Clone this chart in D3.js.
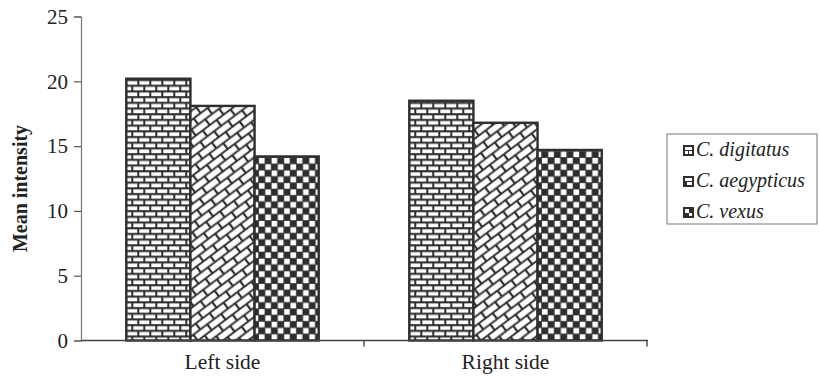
<!DOCTYPE html>
<html>
<head>
<meta charset="utf-8">
<script src="https://cdn.jsdelivr.net/npm/d3@7"></script>
<style>
  html, body { margin: 0; padding: 0; background: #fff; }
  svg { display: block; }
</style>
</head>
<body>
<svg id="chart" width="819" height="376"></svg>
<script>
// Mean intensity by side for three Cyclops species
const categories = ["Left side", "Right side"];
const species = ["C. digitatus", "C. aegypticus", "C. vexus"];
const digitatus = [20.2, 18.5];
const aegypticus = [18.1, 16.8];
const vexus = [14.2, 14.7];
const yTicks = [0, 5, 10, 15, 20, 25];

const seriesValues = [digitatus, aegypticus, vexus];
const data = categories.map((c, i) => ({
  category: c,
  values: species.map((s, j) => ({ key: s, idx: j, value: seriesValues[j][i] }))
}));

const svg = d3.select("#chart");
const ink = "#2e2e2e";
const serif = "'Liberation Serif', 'Times New Roman', 'DejaVu Serif', serif";

// Fill patterns: horizontal brick, diagonal brick, checkerboard
const defs = svg.append("defs");

const brick = defs.append("pattern").attr("id", "pat0")
  .attr("patternUnits", "userSpaceOnUse").attr("width", 12).attr("height", 11.4);
brick.append("rect").attr("width", 12).attr("height", 11.4).attr("fill", ink);
brick.append("rect").attr("x", 1).attr("y", 1.3).attr("width", 10).attr("height", 3.6).attr("fill", "#fff");
brick.append("rect").attr("x", -5).attr("y", 7).attr("width", 10).attr("height", 3.6).attr("fill", "#fff");
brick.append("rect").attr("x", 7).attr("y", 7).attr("width", 10).attr("height", 3.6).attr("fill", "#fff");

const diag = defs.append("pattern").attr("id", "pat1")
  .attr("patternUnits", "userSpaceOnUse").attr("width", 17.4).attr("height", 15)
  .attr("patternTransform", "rotate(-37)");
diag.append("rect").attr("width", 17.4).attr("height", 15).attr("fill", ink);
diag.append("rect").attr("x", 1.1).attr("y", 1.1).attr("width", 15.2).attr("height", 5.6).attr("fill", "#fff");
diag.append("rect").attr("x", -7.6).attr("y", 8.6).attr("width", 15.2).attr("height", 5.6).attr("fill", "#fff");
diag.append("rect").attr("x", 9.8).attr("y", 8.6).attr("width", 15.2).attr("height", 5.6).attr("fill", "#fff");

const check = defs.append("pattern").attr("id", "pat2")
  .attr("patternUnits", "userSpaceOnUse").attr("width", 12.6).attr("height", 12.6);
check.append("rect").attr("width", 12.6).attr("height", 12.6).attr("fill", ink);
check.append("rect").attr("x", 0.4).attr("y", 0.4).attr("width", 5.6).attr("height", 5.6).attr("fill", "#fff");
check.append("rect").attr("x", 6.7).attr("y", 6.7).attr("width", 5.6).attr("height", 5.6).attr("fill", "#fff");

// Scales
const x0 = d3.scaleBand().domain(categories).range([81, 647])
  .paddingInner(0.32).paddingOuter(0.16);
const x1 = d3.scaleBand().domain(species).range([0, x0.bandwidth()]);
const y = d3.scaleLinear().domain([0, 25]).range([340.5, 16.5]);

// Y axis
const yAxis = svg.append("g").attr("transform", "translate(81,0)")
  .call(d3.axisLeft(y).tickValues(yTicks).tickSize(7).tickPadding(6));
yAxis.select(".domain").attr("stroke", "#777").attr("stroke-width", 1.2);
yAxis.selectAll(".tick line").attr("stroke", "#555").attr("stroke-width", 1.2);
yAxis.selectAll(".tick text")
  .attr("font-family", serif).attr("font-size", 21).attr("fill", "#222");

// Y title
svg.append("text")
  .attr("transform", `translate(27,${(y(0) + y(25)) / 2 + 10}) rotate(-90)`)
  .attr("text-anchor", "middle")
  .attr("font-family", serif).attr("font-weight", "bold").attr("font-size", 20)
  .attr("fill", "#222")
  .text("Mean intensity");

// Bars
const groups = svg.append("g").selectAll("g").data(data).join("g")
  .attr("transform", d => `translate(${x0(d.category)},0)`);
groups.selectAll("rect").data(d => d.values).join("rect")
  .attr("x", d => x1(d.key))
  .attr("width", x1.bandwidth())
  .attr("y", d => y(d.value))
  .attr("height", d => y(0) - y(d.value))
  .attr("fill", d => `url(#pat${d.idx})`)
  .attr("stroke", ink).attr("stroke-width", 2.4);

// X axis with category boundary ticks
const xAxis = svg.append("g").attr("transform", `translate(0,${y(0)})`);
xAxis.append("line").attr("x1", 81).attr("x2", 648)
  .attr("stroke", "#444").attr("stroke-width", 1.4);
const bounds = [81, x0.step() + 81, 2 * x0.step() + 81];
xAxis.selectAll("line.tk").data(bounds.slice(1)).join("line").attr("class", "tk")
  .attr("x1", d => d).attr("x2", d => d).attr("y1", 0).attr("y2", 6)
  .attr("stroke", "#444").attr("stroke-width", 1.4);
xAxis.selectAll("text").data(categories).join("text")
  .attr("x", d => x0(d) + x0.bandwidth() / 2)
  .attr("y", 28)
  .attr("text-anchor", "middle")
  .attr("font-family", serif).attr("font-size", 21.5).attr("fill", "#222")
  .text(d => d);

// Legend
const legend = svg.append("g").attr("transform", "translate(667,134)");
legend.append("rect").attr("x", 0).attr("y", 0).attr("width", 150).attr("height", 90)
  .attr("fill", "#fff").attr("stroke", "#777").attr("stroke-width", 1);
const items = legend.selectAll("g.item").data(species).join("g").attr("class", "item")
  .attr("transform", (d, i) => `translate(16,${17 + i * 31})`);
// Small key swatches: dark square with a light mark hinting at each fill
items.append("rect").attr("x", 0).attr("y", -6).attr("width", 11).attr("height", 11)
  .attr("fill", ink);
const marks = [
  [[2, -4, 7, 3], [2, 0, 3, 3], [6, 0, 3, 3]],
  [[2, -4, 7, 3], [4, 0, 5, 3]],
  [[2, -4, 4, 4], [6, 0, 3, 3]]
];
items.each(function (d, i) {
  d3.select(this).selectAll("rect.mk").data(marks[i]).join("rect").attr("class", "mk")
    .attr("x", m => m[0]).attr("y", m => m[1]).attr("width", m => m[2]).attr("height", m => m[3])
    .attr("fill", "#fff");
});
items.append("text").attr("x", 13).attr("y", 5)
  .attr("font-family", serif).attr("font-style", "italic").attr("font-size", 20)
  .attr("fill", "#222")
  .text(d => d);
</script>
</body>
</html>
